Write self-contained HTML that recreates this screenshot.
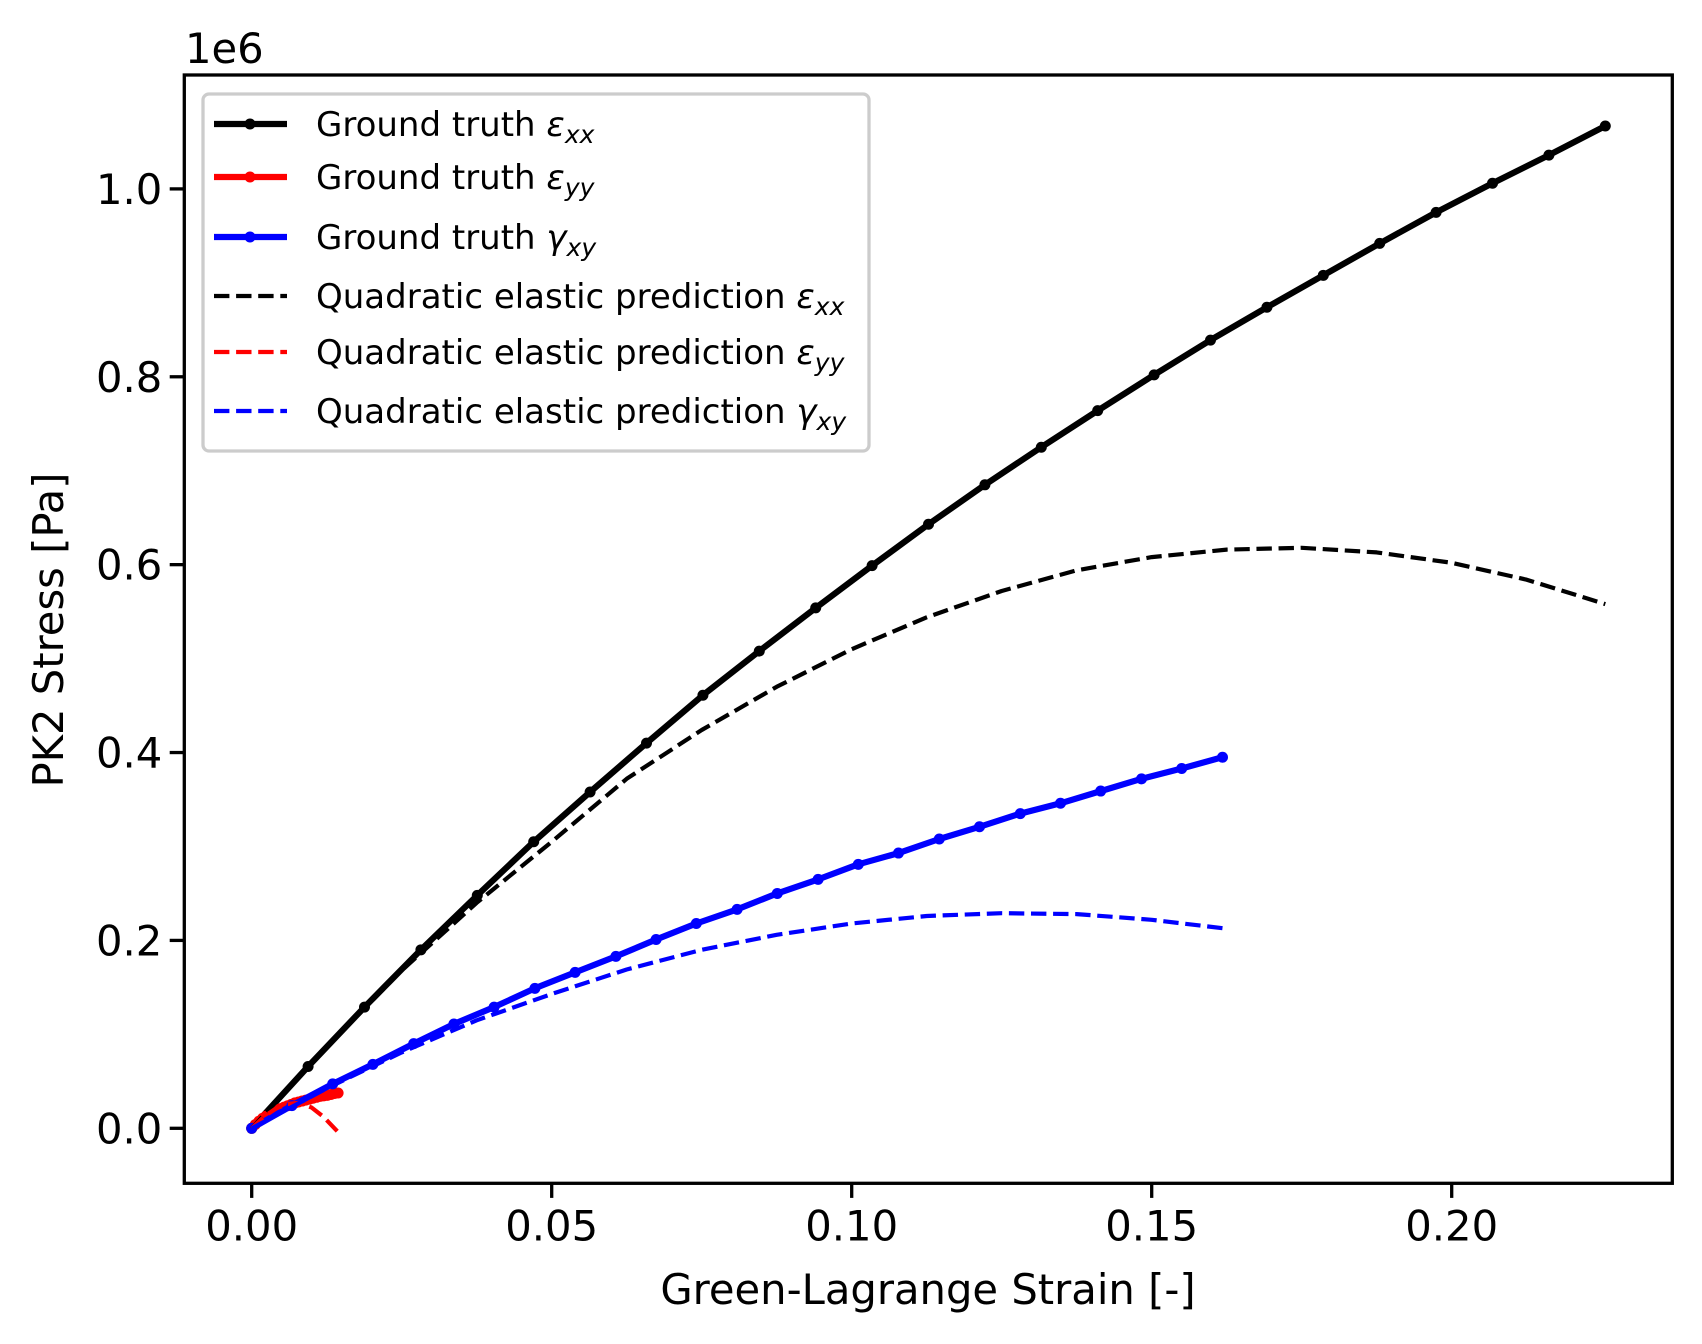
<!DOCTYPE html>
<html><head><meta charset="utf-8"><style>
body{margin:0;background:#fff}
svg{display:block;font-family:"DejaVu Sans","Liberation Sans",sans-serif}
</style></head><body>
<svg id="chart" width="1702" height="1344" viewBox="0 0 1702 1344" xmlns="http://www.w3.org/2000/svg">
<rect width="1702" height="1344" fill="#fff"/>
<g id="plot"></g>
<g id="axes"></g>
<g id="legend"></g>
</svg>
<script>
const xTicks=[0,0.05,0.1,0.15,0.2];
const xTickLabels=["0.00","0.05","0.10","0.15","0.20"];
const yTicks=[0,0.2,0.4,0.6,0.8,1.0];
const yTickLabels=["0.0","0.2","0.4","0.6","0.8","1.0"];
const gtXXx=[0,.0094,.0188,.0282,.0376,.047,.0564,.0658,.0752,.0846,.094,.1034,.1128,.1222,.1316,.141,.1504,.1598,.1692,.1786,.188,.1974,.2068,.2162,.2256];
const gtXXy=[0,.0658,.129,.190,.248,.305,.358,.410,.461,.508,.554,.599,.643,.685,.725,.764,.802,.839,.874,.908,.942,.975,1.006,1.036,1.067];
const gtGXYx=[0,.0067,.0135,.0202,.027,.0337,.0404,.0472,.0539,.0607,.0674,.0741,.0809,.0876,.0944,.1011,.1078,.1146,.1213,.1281,.1348,.1415,.1483,.155,.1618];
const gtGXYy=[0,.0242,.0473,.0681,.0901,.111,.129,.149,.166,.183,.201,.218,.233,.250,.265,.281,.293,.308,.321,.335,.346,.359,.372,.383,.395];
const gtYYx=[0,.0006,.0012,.0018,.0024,.003,.0036,.0042,.0048,.0054,.006,.0066,.0072,.0078,.0084,.009,.0096,.0102,.0108,.0114,.012,.0126,.0132,.0138,.0144];
const gtYYy=[0,.004,.0075,.0105,.013,.0155,.0175,.0195,.021,.0225,.024,.0255,.027,.028,.029,.030,.031,.032,.033,.034,.0345,.035,.036,.037,.0376];
const qXXx=[0,.0125,.025,.0375,.05,.0625,.075,.0875,.1,.1125,.125,.1375,.15,.1625,.175,.1875,.2,.2125,.2256];
const qXXy=[0,.0866,.168,.240,.305,.372,.424,.470,.510,.544,.572,.594,.608,.616,.618,.613,.602,.584,.558];
const qYYx=[0,.002,.004,.006,.008,.010,.012,.0144];
const qYYy=[0,.012,.021,.026,.027,.022,.012,-.004];
const qGXYx=[0,.0125,.025,.0375,.05,.0625,.075,.0875,.1,.1125,.125,.1375,.15,.1618];
const qGXYy=[0,.0426,.0808,.115,.143,.169,.190,.206,.218,.226,.229,.228,.222,.213];

const L=184.3,R=1672.3,T=75,B=1183.3;
const X=v=>251.7+v*6000;
const Y=v=>1128.3-v*939.4;
const NS="http://www.w3.org/2000/svg";
function mk(tag,attrs,parent){const e=document.createElementNS(NS,tag);for(const k in attrs)e.setAttribute(k,attrs[k]);parent.appendChild(e);return e;}
const plot=document.getElementById('plot'),axes=document.getElementById('axes'),leg=document.getElementById('legend');

function series(xs,ys,color,dashed,markers,name){
  const pts=xs.map((x,i)=>X(x).toFixed(1)+","+Y(ys[i]).toFixed(1)).join(" ");
  const pl=mk('polyline',{points:pts,fill:'none',stroke:color,'stroke-width':dashed?4.2:6.2,'stroke-linejoin':'round','stroke-linecap':dashed?'butt':'square'},plot);
  if(dashed)pl.setAttribute('stroke-dasharray','15.4 6.7');
  
  
  if(markers){xs.forEach((x,i)=>{const c=mk('circle',{cx:X(x),cy:Y(ys[i]),r:5.5,fill:color},plot);
    
    });}
}
series(gtXXx,gtXXy,'#000',false,true,'ground-truth-exx');
series(gtYYx,gtYYy,'#f00',false,true,'ground-truth-eyy');
series(gtGXYx,gtGXYy,'#00f',false,true,'ground-truth-gxy');
series(qXXx,qXXy,'#000',true,false,'quadratic-exx');
series(qYYx,qYYy,'#f00',true,false,'quadratic-eyy');
series(qGXYx,qGXYy,'#00f',true,false,'quadratic-gxy');

const frame=mk('rect',{x:L,y:T,width:R-L,height:B-T,fill:'none',stroke:'#000','stroke-width':3.3},axes);


xTicks.forEach((v,i)=>{
  mk('line',{x1:X(v),x2:X(v),y1:B,y2:B+14.6,stroke:'#000','stroke-width':3.3},axes);
  const t=mk('text',{x:X(v),y:B+57,'font-size':41.7,'text-anchor':'middle',fill:'#000'},axes);
  t.textContent=xTickLabels[i];
  
  
});
yTicks.forEach((v,i)=>{
  mk('line',{x1:L-14.6,x2:L,y1:Y(v),y2:Y(v),stroke:'#000','stroke-width':3.3},axes);
  const t=mk('text',{x:L-22,y:Y(v)+15,'font-size':41.7,'text-anchor':'end',fill:'#000'},axes);
  t.textContent=yTickLabels[i];
  
  
});
let t=mk('text',{x:185,y:63,'font-size':41.7,fill:'#000'},axes);t.textContent='1e6';


t=mk('text',{x:928,y:1304,'font-size':41.7,'text-anchor':'middle',fill:'#000'},axes);t.textContent='Green-Lagrange Strain [-]';


t=mk('text',{x:0,y:0,'font-size':41.7,'text-anchor':'middle',fill:'#000',transform:'translate(63,630) rotate(-90)'},axes);t.textContent='PK2 Stress [Pa]';



const lb=mk('rect',{x:203,y:94,width:666,height:357,rx:6,fill:'#fff','fill-opacity':0.8,stroke:'#ccc','stroke-width':3.3},leg);


const entries=[
 ['#000',false,'Ground truth ','ε','xx',124],
 ['#f00',false,'Ground truth ','ε','yy',177],
 ['#00f',false,'Ground truth ','γ','xy',237],
 ['#000',true,'Quadratic elastic prediction ','ε','xx',296],
 ['#f00',true,'Quadratic elastic prediction ','ε','yy',352],
 ['#00f',true,'Quadratic elastic prediction ','γ','xy',411]];
entries.forEach(e=>{
  const g=mk('g',{},leg);
  
  
  const y=e[5];
  const ln=mk('line',{x1:214,x2:287,y1:y,y2:y,stroke:e[0],'stroke-width':e[1]?4.2:6.2},g);
  if(e[1])ln.setAttribute('stroke-dasharray','15.4 6.7');
  if(!e[1])mk('circle',{cx:250,cy:y,r:5.5,fill:e[0]},g);
  const tx=mk('text',{x:316,y:y+12,'font-size':34,fill:'#000'},g);
  const s1=mk('tspan',{},tx);s1.textContent=e[2];
  const s2=mk('tspan',{'font-style':'italic'},tx);s2.textContent=e[3];
  const s3=mk('tspan',{'font-style':'italic','font-size':25,dy:7},tx);s3.textContent=e[4];
});
</script>
</body></html>
